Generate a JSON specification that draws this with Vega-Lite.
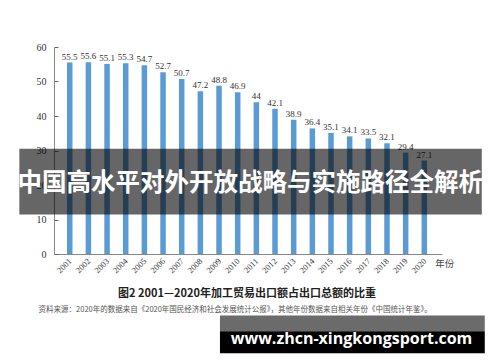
{
  "$schema": "https://vega.github.io/schema/vega-lite/v6.json",
  "autosize": "none",
  "width": 388,
  "height": 207,
  "padding": {"left": 54, "top": 47, "right": 58, "bottom": 108},
  "background": "white",
  "config": {"view": {"stroke": null}, "font": "Liberation Serif", "axis": {"labelOverlap": false, "labelBound": false, "labelFlush": false}},
  "data": {"values": [
    {"year": 2001, "share": 55.5},
    {"year": 2002, "share": 55.6},
    {"year": 2003, "share": 55.1},
    {"year": 2004, "share": 55.3},
    {"year": 2005, "share": 54.7},
    {"year": 2006, "share": 52.7},
    {"year": 2007, "share": 50.7},
    {"year": 2008, "share": 47.2},
    {"year": 2009, "share": 48.8},
    {"year": 2010, "share": 46.9},
    {"year": 2011, "share": 44},
    {"year": 2012, "share": 42.1},
    {"year": 2013, "share": 38.9},
    {"year": 2014, "share": 36.4},
    {"year": 2015, "share": 35.1},
    {"year": 2016, "share": 34.1},
    {"year": 2017, "share": 33.5},
    {"year": 2018, "share": 32.1},
    {"year": 2019, "share": 29.4},
    {"year": 2020, "share": 27.1}
  ]},
  "layer": [
    {
      "mark": {"type": "bar", "size": 5.5, "color": "#5b9bd5"},
      "encoding": {
        "x": {"field": "year", "type": "quantitative",
              "scale": {"domain": [2000.425, 2020.68], "nice": false, "zero": false},
              "axis": {"title": null, "values": [2001,2002,2003,2004,2005,2006,2007,2008,2009,2010,2011,2012,2013,2014,2015,2016,2017,2018,2019,2020],
                       "tickCount": 40,
                       "format": "d", "labelAngle": -45, "labelAlign": "right", "labelBaseline": "middle",
                       "ticks": false, "labelPadding": 5, "labelFontSize": 8.5, "labelColor": "#333",
                       "labelFont": "Liberation Serif", "domainColor": "#888", "grid": false, "labelOverlap": false}},
        "y": {"field": "share", "type": "quantitative",
              "scale": {"domain": [0, 60], "nice": false},
              "axis": {"title": null, "values": [0,10,20,30,40,50,60], "tickCount": 20, "grid": false, "labelOverlap": false,
                       "tickSize": -4, "tickColor": "#666", "domainColor": "#888",
                       "labelPadding": 12, "labelFontSize": 10, "labelColor": "#333", "labelFont": "Liberation Serif"}}
      }
    },
    {
      "mark": {"type": "text", "baseline": "alphabetic", "dy": -3, "fontSize": 9, "color": "#333", "font": "Liberation Serif"},
      "encoding": {
        "x": {"field": "year", "type": "quantitative"},
        "y": {"field": "share", "type": "quantitative"},
        "text": {"field": "share", "type": "quantitative"}
      }
    },
    {
      "data": {"values": [{"label": "年份"}]},
      "mark": {"type": "text", "fontSize": 9.5, "color": "#444", "font": "Noto Sans CJK SC", "baseline": "middle"},
      "encoding": {
        "x": {"datum": 2021.1, "type": "quantitative"},
        "y": {"datum": -2.9, "type": "quantitative"},
        "text": {"field": "label"}
      }
    },
    {
      "data": {"values": [{"label": "图2  2001—2020年加工贸易出口额占出口总额的比重"}]},
      "mark": {"type": "text", "fontSize": 11, "fontWeight": "bold", "color": "#222", "font": "Noto Sans CJK SC", "baseline": "middle"},
      "encoding": {
        "x": {"datum": 2010.5, "type": "quantitative"},
        "y": {"datum": -11.7, "type": "quantitative"},
        "text": {"field": "label"}
      }
    },
    {
      "data": {"values": [{"label": "资料来源：2020年的数据来自《2020年国民经济和社会发展统计公报》，其他年份数据来自相关年份《中国统计年鉴》。"}]},
      "mark": {"type": "text", "fontSize": 7.5, "color": "#555", "font": "Noto Sans CJK SC", "baseline": "middle", "align": "left"},
      "encoding": {
        "x": {"datum": 1999.33, "type": "quantitative"},
        "y": {"datum": -16.2, "type": "quantitative"},
        "text": {"field": "label"}
      }
    },
    {
      "data": {"values": [{"label": "band"}]},
      "mark": {"type": "rect", "color": "black", "opacity": 0.6},
      "encoding": {
        "x": {"datum": 1998.3, "type": "quantitative"},
        "x2": {"datum": 2023.08},
        "y": {"datum": 30.49, "type": "quantitative"},
        "y2": {"datum": 11.45}
      }
    },
    {
      "data": {"values": [{"label": "中国高水平对外开放战略与实施路径全解析"}]},
      "mark": {"type": "text", "fontSize": 24.5, "fontWeight": "bold", "color": "white", "font": "Noto Sans CJK SC", "baseline": "middle"},
      "encoding": {
        "x": {"datum": 2010.67, "type": "quantitative"},
        "y": {"datum": 20.29, "type": "quantitative"},
        "text": {"field": "label"}
      }
    },
    {
      "data": {"values": [{"label": "top"}]},
      "mark": {"type": "rect", "color": "#6b6b6b"},
      "encoding": {
        "x": {"datum": 2009.05, "type": "quantitative"},
        "x2": {"datum": 2023.24},
        "y": {"datum": -17.83, "type": "quantitative"},
        "y2": {"datum": -22.38}
      }
    },
    {
      "data": {"values": [{"label": "bottom"}]},
      "mark": {"type": "rect", "color": "black"},
      "encoding": {
        "x": {"datum": 2009.05, "type": "quantitative"},
        "x2": {"datum": 2023.24},
        "y": {"datum": -22.38, "type": "quantitative"},
        "y2": {"datum": -28.75}
      }
    },
    {
      "data": {"values": [{"label": "www.zhcn-xingkongsport.com"}]},
      "mark": {"type": "text", "fontSize": 16, "fontWeight": "bold", "color": "white", "font": "Open Sans", "baseline": "middle"},
      "encoding": {
        "x": {"datum": 2016.1, "type": "quantitative"},
        "y": {"datum": -24.6, "type": "quantitative"},
        "text": {"field": "label"}
      }
    }
  ]
}
